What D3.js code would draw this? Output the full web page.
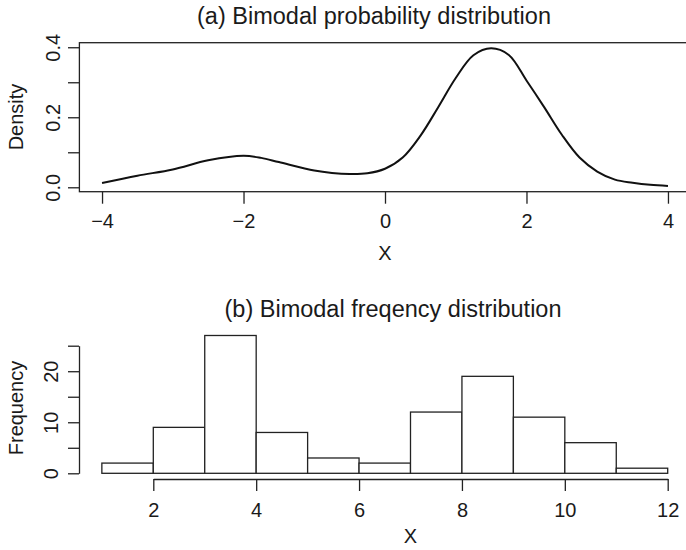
<!DOCTYPE html>
<html>
<head>
<meta charset="utf-8">
<script src="https://cdn.jsdelivr.net/npm/d3@7"></script>
<style>
  html, body { margin: 0; padding: 0; background: #fff; }
  svg { display: block; }
  text { font-family: "Liberation Sans", Arial, Helvetica, sans-serif; fill: #1a1a1a; }
</style>
</head>
<body>
<svg id="chart" width="686" height="550"></svg>
<script>
// ---------- data ----------
const densityX = [-4.0, -3.5, -3.0, -2.5, -2.0, -1.75, -1.5, -1.0, -0.75, -0.5, -0.25, 0.0, 0.25, 0.5, 0.75, 1.0, 1.25, 1.5, 1.75, 2.0, 2.25, 2.5, 2.75, 3.0, 3.25, 3.5, 3.75, 4.0];
const densityY = [0.012, 0.033, 0.051, 0.077, 0.090, 0.084, 0.072, 0.048, 0.041, 0.038, 0.040, 0.053, 0.085, 0.147, 0.228, 0.312, 0.377, 0.397, 0.378, 0.305, 0.229, 0.150, 0.085, 0.045, 0.022, 0.013, 0.007, 0.004];
const densityXTicks = [-4, -2, 0, 2, 4];
const densityYTicks = [0, 0.1, 0.2, 0.3, 0.4];
const densityYLabels = ["0.0", "", "0.2", "", "0.4"];

const histBreaks = [1, 2, 3, 4, 5, 6, 7, 8, 9, 10, 11, 12];
const histCounts = [2, 9, 27, 8, 3, 2, 12, 19, 11, 6, 1];
const histXTicks = [2, 4, 6, 8, 10, 12];
const histYTicks = [0, 5, 10, 15, 20, 25];
const histYLabels = ["0", "", "10", "", "20", ""];

const titleA = "(a) Bimodal probability distribution";
const titleB = "(b) Bimodal freqency distribution";

// ---------- drawing ----------
const svg = d3.select("#chart");
const ink = "#222";

// ===== Panel (a) =====
const xA = d3.scaleLinear().domain([-4.32, 4.32]).range([79.4, 690.6]);
const yA = d3.scaleLinear().domain([-0.0126, 0.413]).range([191.7, 42.7]);

// box
svg.append("rect")
  .attr("x", xA.range()[0]).attr("y", yA.range()[1])
  .attr("width", xA.range()[1] - xA.range()[0])
  .attr("height", yA.range()[0] - yA.range()[1])
  .attr("fill", "none").attr("stroke", ink).attr("stroke-width", 1.3);

// curve
const pts = densityX.map((x, i) => [x, densityY[i]]);
svg.append("path")
  .datum(pts)
  .attr("fill", "none").attr("stroke", "#111").attr("stroke-width", 2)
  .attr("d", d3.line().x(d => xA(d[0])).y(d => yA(d[1])).curve(d3.curveCatmullRom.alpha(0.5)));

// x axis (a)
const gxA = svg.append("g").attr("transform", `translate(0,${yA.range()[0]})`)
  .call(d3.axisBottom(xA).tickValues(densityXTicks).tickSize(12).tickSizeOuter(0));
gxA.select(".domain").remove();
gxA.selectAll("line").attr("stroke", ink).attr("stroke-width", 1.3);
gxA.selectAll("text").attr("y", 36.5).attr("dy", 0).attr("font-size", 20).attr("fill", "#1a1a1a");

// y axis (a)
const gyA = svg.append("g").attr("transform", `translate(${xA.range()[0]},0)`)
  .call(d3.axisLeft(yA).tickValues(densityYTicks).tickSize(11.4).tickSizeOuter(0)
    .tickFormat((d, i) => densityYLabels[i]));
gyA.select(".domain").remove();
gyA.selectAll("line").attr("stroke", ink).attr("stroke-width", 1.3);
gyA.selectAll("text").attr("x", 0).attr("dy", 0).attr("text-anchor", "middle")
  .attr("transform", "translate(-19.4,0) rotate(-90)").attr("font-size", 20).attr("fill", "#1a1a1a");

// labels (a)
svg.append("text").attr("x", 374).attr("y", 24).attr("text-anchor", "middle")
  .attr("font-size", 23.5).text(titleA);
svg.append("text").attr("x", 385).attr("y", 260).attr("text-anchor", "middle")
  .attr("font-size", 20).text("X");
svg.append("text").attr("transform", "translate(23,117) rotate(-90)").attr("text-anchor", "middle")
  .attr("font-size", 20).text("Density");

// ===== Panel (b) =====
const xB = d3.scaleLinear().domain([2, 12]).range([153.3, 667.7]);
const yB = d3.scaleLinear().domain([0, 25]).range([473.3, 345.7]);

const bins = histCounts.map((c, i) => ({ x0: histBreaks[i], x1: histBreaks[i + 1], c }));
svg.append("g").selectAll("rect").data(bins).join("rect")
  .attr("x", d => xB(d.x0)).attr("width", d => xB(d.x1) - xB(d.x0))
  .attr("y", d => yB(d.c)).attr("height", d => yB(0) - yB(d.c))
  .attr("fill", "#fff").attr("stroke", ink).attr("stroke-width", 1.3);

// x axis (b)
const gxB = svg.append("g").attr("transform", "translate(0,479)")
  .call(d3.axisBottom(xB).tickValues(histXTicks).tickSize(12).tickSizeOuter(0));
gxB.select(".domain").attr("stroke", ink).attr("stroke-width", 1.3);
gxB.selectAll("line").attr("stroke", ink).attr("stroke-width", 1.3);
gxB.selectAll("text").attr("y", 38).attr("dy", 0).attr("font-size", 20).attr("fill", "#1a1a1a");

// y axis (b)
const gyB = svg.append("g").attr("transform", "translate(79,0)")
  .call(d3.axisLeft(yB).tickValues(histYTicks).tickSize(11).tickSizeOuter(0)
    .tickFormat((d, i) => histYLabels[i]));
gyB.select(".domain").attr("stroke", ink).attr("stroke-width", 1.3);
gyB.selectAll("line").attr("stroke", ink).attr("stroke-width", 1.3);
gyB.selectAll("text").attr("x", 0).attr("dy", 0).attr("text-anchor", "middle")
  .attr("transform", "translate(-20.7,0) rotate(-90)").attr("font-size", 20).attr("fill", "#1a1a1a");

// labels (b)
svg.append("text").attr("x", 393).attr("y", 316.7).attr("text-anchor", "middle")
  .attr("font-size", 23.5).text(titleB);
svg.append("text").attr("x", 410.5).attr("y", 543).attr("text-anchor", "middle")
  .attr("font-size", 20).text("X");
svg.append("text").attr("transform", "translate(23,408) rotate(-90)").attr("text-anchor", "middle")
  .attr("font-size", 20).text("Frequency");
</script>
</body>
</html>
